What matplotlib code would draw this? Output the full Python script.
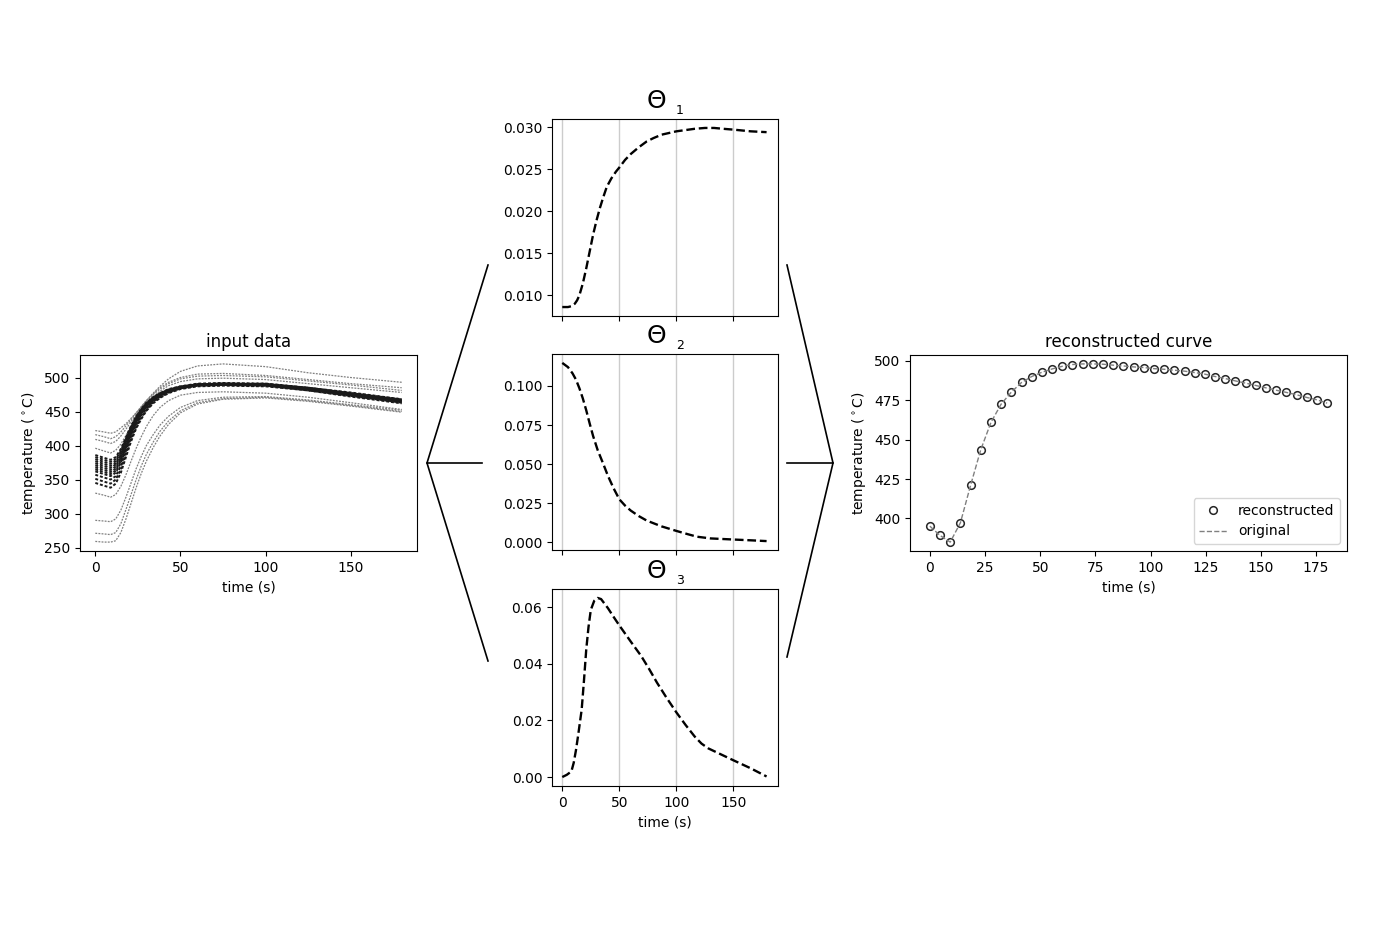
import numpy as np
import matplotlib.pyplot as plt
from matplotlib.lines import Line2D

# ---- input data: temperature curves read at a few time points ----
t_in = [0, 5, 9, 12, 15, 18, 21, 24, 27, 30, 34, 38, 43, 50, 60, 75, 100, 125, 150, 180]

curves_outer = [
    [422, 420, 418, 420, 426, 432, 440, 448, 457, 466, 477, 487, 498, 509, 517, 520, 516, 507, 500, 493],
    [416, 413, 410, 413, 420, 429, 438, 448, 457, 466, 476, 485, 493, 500, 505, 506, 503, 497, 491, 485],
    [409, 406, 403, 406, 414, 424, 435, 446, 456, 465, 475, 483, 491, 498, 502, 503, 501, 495, 489, 481],
    [396, 392, 389, 393, 402, 415, 429, 442, 453, 462, 472, 480, 488, 494, 498, 499, 497, 491, 485, 478],
    [330, 327, 324, 328, 340, 357, 377, 396, 413, 428, 444, 456, 466, 474, 478, 479, 477, 471, 463, 453],
    [290, 289, 288, 292, 305, 324, 345, 366, 384, 400, 416, 430, 443, 456, 466, 471, 472, 467, 460, 452],
    [271, 270, 269, 272, 285, 306, 328, 350, 370, 387, 405, 421, 436, 451, 463, 469, 471, 466, 459, 450],
    [259, 258, 258, 260, 272, 292, 315, 338, 359, 377, 397, 414, 431, 448, 461, 468, 470, 465, 458, 449],
]

curves_band = [
    [386, 382, 379, 383, 395, 412, 429, 443, 454, 463, 471, 477, 483, 487, 491, 492, 491, 485, 478, 468],
    [383, 379, 376, 380, 392, 410, 427, 442, 453, 462, 471, 477, 482, 487, 490, 491, 491, 485, 477, 468],
    [380, 376, 373, 377, 390, 408, 426, 440, 452, 461, 470, 476, 482, 486, 490, 491, 490, 485, 477, 467],
    [377, 373, 370, 374, 387, 406, 424, 439, 451, 460, 469, 476, 481, 486, 490, 491, 490, 484, 476, 467],
    [374, 370, 367, 372, 385, 404, 422, 438, 450, 459, 469, 475, 481, 486, 490, 491, 490, 484, 476, 466],
    [371, 367, 364, 369, 382, 402, 421, 436, 449, 459, 468, 475, 481, 486, 489, 490, 490, 484, 476, 466],
    [368, 364, 361, 366, 380, 399, 419, 435, 448, 458, 467, 474, 480, 485, 489, 490, 489, 483, 475, 465],
    [365, 361, 358, 363, 377, 397, 417, 434, 447, 457, 467, 474, 480, 485, 489, 490, 489, 483, 475, 465],
    [362, 358, 355, 360, 375, 395, 416, 432, 446, 456, 466, 473, 480, 485, 489, 490, 489, 483, 474, 464],
    [357, 353, 350, 355, 370, 392, 413, 430, 444, 454, 465, 473, 479, 484, 488, 489, 488, 482, 474, 464],
    [351, 347, 344, 350, 365, 388, 410, 427, 441, 452, 464, 471, 478, 484, 488, 489, 488, 481, 473, 463],
    [345, 341, 338, 344, 360, 383, 406, 425, 439, 451, 462, 470, 477, 483, 487, 488, 487, 481, 472, 462],
]

# ---- basis functions Theta_1..3 ----
t1 = [0, 5, 8, 11, 13, 15, 18, 21, 24, 27, 30, 33, 36, 39, 43, 47, 50, 55, 60, 67,
      74, 80, 87, 100, 116, 125, 133, 141, 150, 165, 179]
theta1 = [0.0086, 0.0086, 0.0087, 0.0090, 0.0094, 0.0100, 0.0114, 0.0132, 0.0152,
          0.0172, 0.0189, 0.0204, 0.0217, 0.0229, 0.0239, 0.0247, 0.0252, 0.0261,
          0.0268, 0.0276, 0.0283, 0.0287, 0.0291, 0.0295, 0.0298, 0.0299, 0.0299,
          0.0298, 0.0297, 0.0295, 0.0294]

t2 = [0, 5, 9, 12, 15, 18, 21, 24, 27, 31, 36, 40, 45, 50, 55, 60, 67, 74, 87, 100,
      110, 118, 130, 150, 165, 179]
theta2 = [0.1147, 0.112, 0.108, 0.104, 0.0985, 0.092, 0.0844, 0.076, 0.068, 0.059,
          0.050, 0.0425, 0.0345, 0.0275, 0.0235, 0.0203, 0.0168, 0.0139, 0.0102,
          0.0073, 0.0052, 0.0036, 0.0025, 0.0018, 0.0013, 0.0008]

t3 = [0, 4, 8, 10, 12, 14, 17, 19, 21, 23, 25, 28, 31, 34, 37, 40, 45, 50, 60, 69,
      76, 83, 91, 100, 108, 116, 122, 128, 139, 150, 165, 179]
theta3 = [0.0, 0.0008, 0.0020, 0.005, 0.0095, 0.015, 0.0238, 0.034, 0.045, 0.053,
          0.059, 0.0622, 0.0632, 0.0628, 0.0612, 0.0596, 0.0565, 0.0535, 0.0478,
          0.0428, 0.0382, 0.0333, 0.0282, 0.0228, 0.0184, 0.0143, 0.0118, 0.0101,
          0.0080, 0.0059, 0.0031, 0.0002]

# ---- reconstructed curve ----
t_rec = np.linspace(0, 180, 40)
temp_rec = [395.1, 389.2, 385.0, 397.3, 421.1, 443.7, 461.0, 472.6, 480.2, 486.3,
            490.1, 492.8, 494.9, 496.6, 497.7, 498.1, 498.1, 497.9, 497.3, 496.8,
            496.2, 495.8, 495.1, 494.7, 494.1, 493.5, 492.6, 491.6, 490.1, 488.8,
            487.3, 485.9, 484.4, 482.9, 481.4, 480.0, 478.5, 476.8, 475.3, 473.2]

W, H = 1395, 941
fig = plt.figure(figsize=(W / 100, H / 100), dpi=100)


def box(x0, y0, x1, y1):
    # pixel box (top-left origin) -> figure fractions
    return [x0 / W, 1 - y1 / H, (x1 - x0) / W, (y1 - y0) / H]


# left panel
ax_in = fig.add_axes(box(80, 355, 417, 551))
for c in curves_outer:
    ax_in.plot(t_in, c, ls=(0, (1.5, 1)), color='0.5', lw=0.9)
for c in curves_band:
    ax_in.plot(t_in, c, ls=(0, (1.5, 1)), color='0.1', lw=1.4)
ax_in.set_title('input data', fontsize=12)
ax_in.set_xlabel('time (s)', fontsize=10)
ax_in.set_ylabel(r'temperature ($^\circ$C)', fontsize=10)
ax_in.set_xticks([0, 50, 100, 150])
ax_in.set_yticks([250, 300, 350, 400, 450, 500])

# middle panels
mid_boxes = [(119, 316), (354, 550), (589, 786)]
thetas = [(t1, theta1), (t2, theta2), (t3, theta3)]
mid_axes = []
for i, ((y0, y1), (tt, th)) in enumerate(zip(mid_boxes, thetas)):
    ax = fig.add_axes(box(552, y0, 778, y1))
    ax.plot(tt, th, ls='--', color='k', lw=1.7)
    ax.set_xlim(-9, 189)
    ax.set_xticks([0, 50, 100, 150])
    ax.grid(axis='x', color='0.8', lw=1)
    ax.text(0.46, 1.03, '\u0398', transform=ax.transAxes, ha='center', va='bottom',
            fontsize=18)
    ax.text(0.565, 1.01, str(i + 1), transform=ax.transAxes, ha='center',
            va='bottom', fontsize=9)
    if i < 2:
        ax.tick_params(labelbottom=False)
    else:
        ax.set_xlabel('time (s)', fontsize=10)
    mid_axes.append(ax)
mid_axes[0].set_yticks([0.010, 0.015, 0.020, 0.025, 0.030])
mid_axes[1].set_yticks([0.0, 0.025, 0.05, 0.075, 0.1])
mid_axes[2].set_yticks([0.0, 0.02, 0.04, 0.06])

# right panel
ax_rec = fig.add_axes(box(910, 355, 1347, 551))
ax_rec.plot(t_rec, temp_rec, 'o', mfc='none', mec='0.15', ms=5.5, mew=1.1,
            label='reconstructed')
ax_rec.plot(t_rec, temp_rec, '--', color='0.5', lw=1, label='original')
ax_rec.set_title('reconstructed curve', fontsize=12)
ax_rec.set_xlabel('time (s)', fontsize=10)
ax_rec.set_ylabel(r'temperature ($^\circ$C)', fontsize=10)
ax_rec.set_yticks([400, 425, 450, 475, 500])
ax_rec.legend(loc='lower right', fontsize=10)

# connector lines
segs = [
    [(488, 265), (427, 463), (488, 661)],
    [(427, 463), (482, 463)],
    [(787, 265), (833, 463), (787, 657)],
    [(787, 463), (833, 463)],
]
for s in segs:
    xs = [p[0] / W for p in s]
    ys = [1 - p[1] / H for p in s]
    fig.add_artist(Line2D(xs, ys, color='k', lw=1.2, transform=fig.transFigure))

fig.savefig('out.png', dpi=100)
